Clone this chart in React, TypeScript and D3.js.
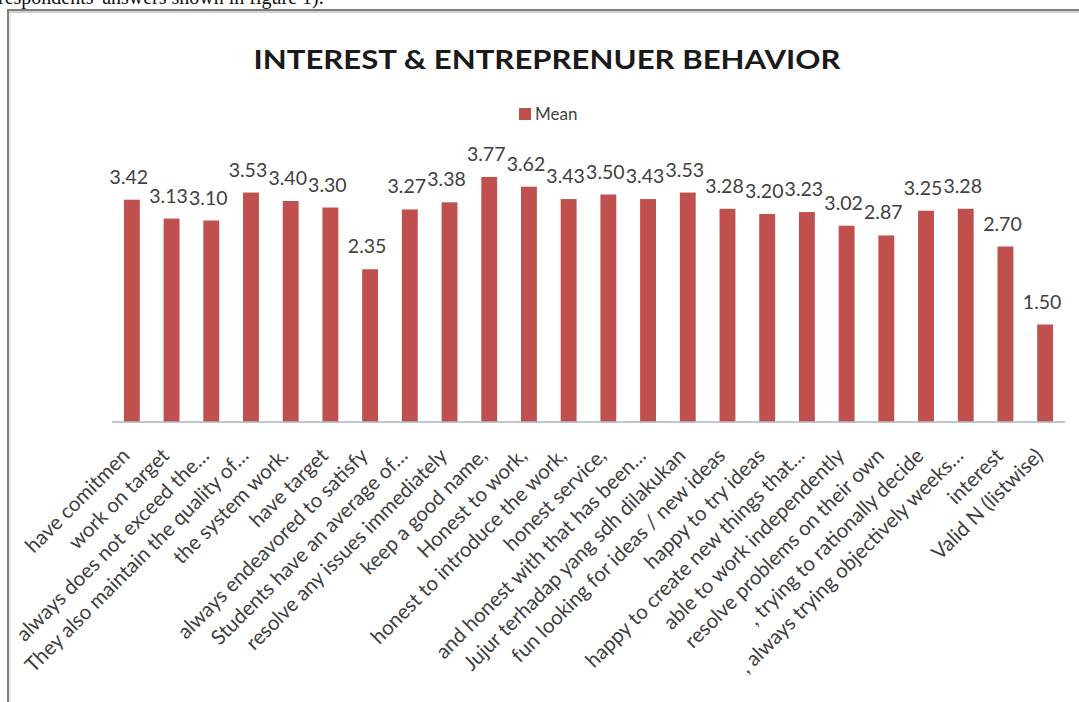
import React from "react";
import * as d3 from "d3";

const categories: string[] = [
  "have comitmen",
  "work on target",
  "always does not exceed the…",
  "They also maintain the quality of…",
  "the system work.",
  "have target",
  "always endeavored to satisfy",
  "Students have an average of…",
  "resolve any issues immediately",
  "keep a good name,",
  "Honest to work,",
  "honest to introduce the work,",
  "honest service,",
  "and honest with that has been…",
  "Jujur terhadap yang sdh dilakukan",
  "fun looking for ideas / new ideas",
  "happy to try ideas",
  "happy to create new things that…",
  "able to work independently",
  "resolve problems on their own",
  ", trying to rationally decide",
  ", always trying objectively weeks…",
  "interest",
  "Valid N (listwise)",
];

const meanValues: number[] = [
  3.42, 3.13, 3.1, 3.53, 3.4, 3.3, 2.35, 3.27, 3.38, 3.77, 3.62, 3.43, 3.5,
  3.43, 3.53, 3.28, 3.2, 3.23, 3.02, 2.87, 3.25, 3.28, 2.7, 1.5,
];

const seriesName = "Mean";
const chartTitle = "INTEREST & ENTREPRENUER BEHAVIOR";
const yDomain: [number, number] = [0, 4];

const W = 1079;
const H = 702;
const FONT = "Lato, 'Open Sans', sans-serif";
const BAR = "#C0504D";
const TXT = "#404040";

export default function App() {
  const x = d3
    .scaleBand<string>()
    .domain(categories)
    .range([112, 1065])
    .paddingInner(0.6)
    .paddingOuter(0.3);
  const y = d3.scaleLinear().domain(yDomain).range([422, 162]);
  const baseY = y(0);

  return (
    <div style={{ position: "absolute", left: 0, top: 0, width: W, height: H, overflow: "hidden", background: "#fff" }}>
      <svg width={W} height={H} style={{ display: "block" }}>
        <rect x={0} y={0} width={W} height={H} fill="#fff" />
        {/* cut-off text of the surrounding document */}
        <text x={-2} y={4} fontFamily="'Liberation Serif', 'Times New Roman', serif" fontSize={20} fill="#111">
          respondents' answers shown in figure 1).
        </text>
        {/* frame */}
        <line x1={8} y1={10} x2={W} y2={10} stroke="#7f7f7f" strokeWidth={2} />
        <line x1={8} y1={12} x2={W} y2={12} stroke="#d0d0d0" strokeWidth={2} />
        <line x1={8} y1={9} x2={8} y2={H} stroke="#7f7f7f" strokeWidth={2} />
        <line x1={10} y1={12} x2={10} y2={H} stroke="#d8d8d8" strokeWidth={1} />

        {/* title */}
        <text
          x={547}
          y={69}
          textAnchor="middle"
          fontFamily={FONT}
          fontWeight="bold"
          fontSize={27}
          fill="#1a1a1a"
          textLength={587}
          lengthAdjust="spacingAndGlyphs"
        >
          {chartTitle}
        </text>

        {/* legend */}
        <rect x={519} y={108} width={12} height={12} fill={BAR} />
        <text x={535} y={120} fontFamily={FONT} fontSize={17} fill={TXT}>
          {seriesName}
        </text>

        {/* bars */}
        {categories.map((c, i) => (
          <rect
            key={c}
            x={x(c)!}
            y={y(meanValues[i])}
            width={x.bandwidth()}
            height={baseY - y(meanValues[i])}
            fill={BAR}
          />
        ))}

        {/* axis line */}
        <line x1={112} y1={baseY} x2={1065} y2={baseY} stroke="#a9b6c4" strokeWidth={1.5} />

        {/* data labels */}
        {categories.map((c, i) => (
          <text
            key={"l" + c}
            x={x(c)! + x.bandwidth() / 2 - 3}
            y={y(meanValues[i]) - 16}
            textAnchor="middle"
            fontFamily={FONT}
            fontSize={19.5}
            fill={TXT}
          >
            {meanValues[i].toFixed(2)}
          </text>
        ))}

        {/* category labels */}
        {categories.map((c) => {
          const cx = x(c)! + x.bandwidth() / 2 - 1;
          const cy = baseY + 35;
          return (
            <text
              key={"c" + c}
              transform={`translate(${cx},${cy}) rotate(-45)`}
              textAnchor="end"
              fontFamily={FONT}
              fontSize={20.5}
              fill={TXT}
            >
              {c}
            </text>
          );
        })}
      </svg>
    </div>
  );
}
